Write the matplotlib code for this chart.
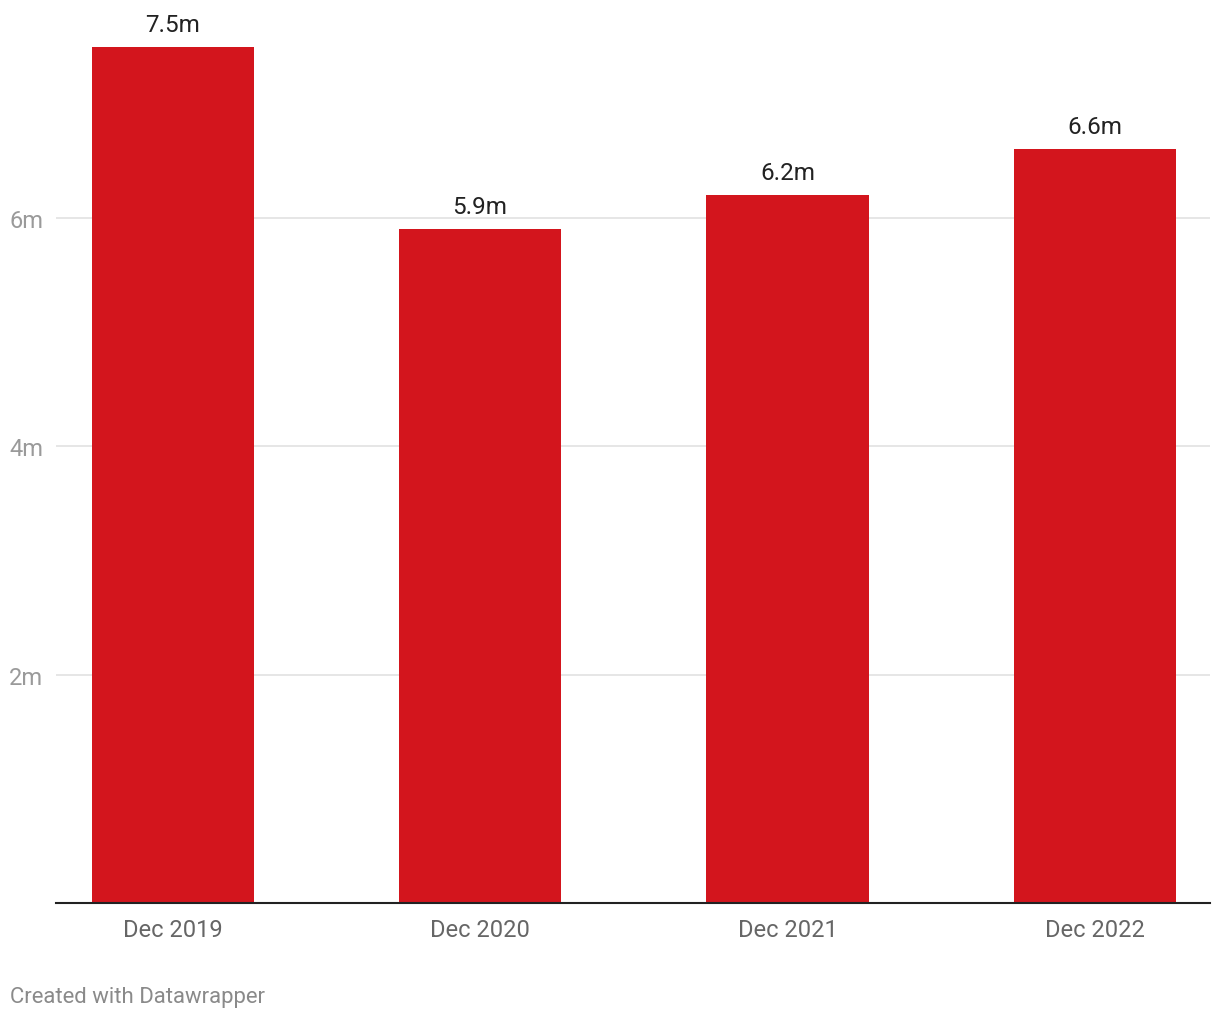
import matplotlib
matplotlib.use("Agg")
import matplotlib.pyplot as plt

plt.rcParams['font.family'] = ['Roboto', 'DejaVu Sans']

# data
categories = ["Dec 2019", "Dec 2020", "Dec 2021", "Dec 2022"]
values = [7.5, 5.9, 6.2, 6.6]
bar_labels = ["7.5m", "5.9m", "6.2m", "6.6m"]
yticks = [2, 4, 6]
ytick_labels = ["2m", "4m", "6m"]

W, H = 1220, 1020
fig = plt.figure(figsize=(W / 100, H / 100), dpi=100)
ax = fig.add_axes([56 / W, 1 - 904 / H, (1210 - 56) / W, (904 - 18) / H])

x = list(range(len(categories)))
ax.bar(x, values, width=0.527, color="#d3151d", zorder=2)

for xi, v, lab in zip(x, values, bar_labels):
    ax.annotate(lab, (xi, v), xytext=(0, 8), textcoords="offset points",
                ha="center", va="bottom", fontsize=17.5, color="#222222")

ax.set_xlim(-0.379, 3.374)
ax.set_ylim(0, 886 / 114.17)
ax.set_xticks(x)
ax.set_xticklabels(categories, fontsize=17, color="#666666")
ax.set_yticks(yticks)
ax.set_yticklabels(ytick_labels, fontsize=17, color="#9a9a9a")
ax.tick_params(axis="both", length=0)
ax.tick_params(axis="x", pad=11)
ax.tick_params(axis="y", pad=9)
ax.grid(axis="y", color="#e2e2e2", linewidth=1.2, zorder=0)

for s in ["top", "right", "left"]:
    ax.spines[s].set_visible(False)
ax.spines["bottom"].set_color("#222222")
ax.spines["bottom"].set_linewidth(1.5)
ax.spines["bottom"].set_zorder(3)

fig.text(10 / W, 1 - 998 / H, "Created with Datawrapper", fontsize=15.9,
         color="#8a8a8a", ha="left", va="center")

fig.savefig("out.png", dpi=100)
